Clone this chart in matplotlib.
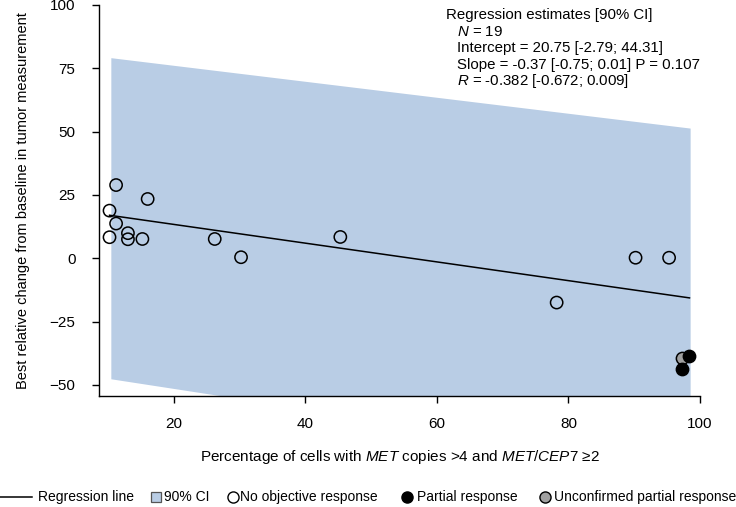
import matplotlib
matplotlib.use("Agg")
import matplotlib.pyplot as plt
from matplotlib.lines import Line2D
from matplotlib.patches import Rectangle
import numpy as np

plt.rcParams['font.family'] = ['Liberation Sans', 'DejaVu Sans']
plt.rcParams['mathtext.fontset'] = 'custom'
plt.rcParams['mathtext.rm'] = 'Liberation Sans'
plt.rcParams['mathtext.it'] = 'Liberation Sans:italic'

# Data
no_resp_x = [11.2, 16.0, 10.2, 11.2, 13.0, 10.2, 13.0, 15.2, 26.2, 30.2, 45.3, 90.2, 95.3, 78.2]
no_resp_y = [28.9, 23.4, 18.8, 13.7, 9.9, 8.3, 7.5, 7.6, 7.6, 0.4, 8.4, 0.2, 0.2, -17.5]
partial_x = [98.4, 97.3]
partial_y = [-38.7, -43.8]
unconf_x = [97.2]
unconf_y = [-39.5]

intercept = 20.75
slope = -0.37
line_x = [10.2, 98.4]

band_x = [10.4, 98.5]
band_upper = [79.2, 51.4]
band_lower = [-47.6, -82.8]

x_ticks = [20, 40, 60, 80, 100]
y_ticks = [-50, -25, 0, 25, 50, 75, 100]

W, H = 736, 507
fig = plt.figure(figsize=(W / 100, H / 100), dpi=100)
ax = fig.add_axes([99 / W, 1 - 396 / H, 601 / W, 391 / H])

band_col = '#b9cde5'
ax.fill_between(band_x, band_lower, band_upper, color=band_col, lw=0, zorder=1)
lx = np.array(line_x)
ax.plot(lx, intercept + slope * lx, color='black', lw=1.1, zorder=2)

ms = 78
ax.scatter(no_resp_x, no_resp_y, s=ms, facecolor='none', edgecolor='black', lw=1.1, zorder=3)
ax.scatter(unconf_x, unconf_y, s=ms, facecolor='#a0a0a0', edgecolor='black', lw=1.1, zorder=3)
ax.scatter(partial_x, partial_y, s=ms, facecolor='black', edgecolor='black', lw=1.1, zorder=4)

ax.set_xlim(8.6, 100)
ax.set_ylim(-54.4, 100)
ax.set_xticks(x_ticks)
ax.set_yticks(y_ticks)
ax.spines['top'].set_visible(False)
ax.spines['right'].set_visible(False)
for s in ['left', 'bottom']:
    ax.spines[s].set_linewidth(1.0)
ax.tick_params(axis='both', direction='out', length=5, width=1.0, labelsize=11)
ax.tick_params(axis='x', pad=10)
ax.tick_params(axis='y', pad=12)

ax.set_xlabel(r'Percentage of cells with $\mathit{MET}$ copies >4 and $\mathit{MET}$/$\mathit{CEP7}$ ≥2',
              fontsize=11, labelpad=12)
ax.set_ylabel('Best relative change from baseline in tumor measurement', fontsize=10.5, labelpad=14)

# Annotation (pixel placement converted to figure coordinates)
fs_ann = 10.8
fig.text(446 / W, 1 - 15 / H, 'Regression estimates [90% CI]', fontsize=fs_ann, va='center')
lines = [r'$\mathit{N}$ = 19',
         'Intercept = 20.75 [-2.79; 44.31]',
         'Slope = -0.37 [-0.75; 0.01] P = 0.107',
         r'$\mathit{R}$ = -0.382 [-0.672; 0.009]']
for i, t in enumerate(lines):
    fig.text(457 / W, 1 - (15 + 16.6 * (i + 1)) / H, t, fontsize=fs_ann, va='center')

# Manual legend along the bottom
ly = 1 - 497 / H
fs_leg = 10
fig.add_artist(Line2D([0 / W, 32 / W], [ly, ly], color='black', lw=1.1, transform=fig.transFigure))
fig.text(38 / W, ly, 'Regression line', fontsize=fs_leg, va='center')
fig.add_artist(Rectangle((151 / W, ly - 5 / H), 10 / W, 10 / H, facecolor=band_col,
                         edgecolor='#555555', lw=0.9, transform=fig.transFigure))
fig.text(164 / W, ly, '90% CI', fontsize=fs_leg, va='center')
legend_marks = [(233, 'white', 'No objective response', 240),
                (407, 'black', 'Partial response', 417),
                (545, '#a0a0a0', 'Unconfirmed partial response', 554)]
for cx, fc, lab, tx in legend_marks:
    fig.add_artist(Line2D([cx / W], [ly], marker='o', ls='none', mfc=fc, mec='black',
                          ms=8, mew=1.0, transform=fig.transFigure))
    fig.text(tx / W, ly, lab, fontsize=fs_leg, va='center')

fig.savefig('out.png', dpi=100)
